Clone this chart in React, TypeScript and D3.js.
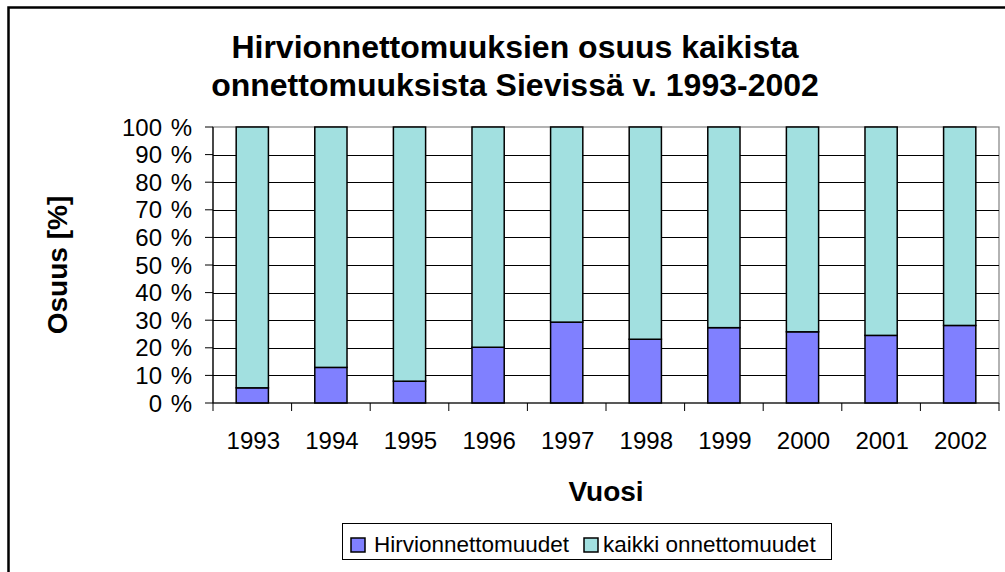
import React from "react";
import * as d3 from "d3";

const years = ["1993", "1994", "1995", "1996", "1997", "1998", "1999", "2000", "2001", "2002"];
const hirvi = [5.5, 12.9, 7.9, 20.2, 29.3, 23.1, 27.3, 25.8, 24.5, 28.1];
const muut = [94.5, 87.1, 92.1, 79.8, 70.7, 76.9, 72.7, 74.2, 75.5, 71.9];
const yTicks = [0, 10, 20, 30, 40, 50, 60, 70, 80, 90, 100];
const seriesNames = ["Hirvionnettomuudet", "kaikki onnettomuudet"];
const colors = ["#8080FF", "#A2E0E0"];
const titleLines = ["Hirvionnettomuuksien osuus kaikista", "onnettomuuksista Sievissä v. 1993-2002"];

const W = 1005;
const H = 572;
const font = "'Liberation Sans', Arial, sans-serif";

export default function App() {
  const left = 213, right = 999, top = 127, bottom = 403;
  const x = d3.scaleBand<string>().domain(years).range([left, right]).paddingInner(0.59).paddingOuter(0.295);
  const y = d3.scaleLinear().domain([0, 100]).range([bottom, top]);
  const step = x.step();
  const boundaries = d3.range(years.length + 1).map((i) => left + i * step);

  const stacked = years.map((yr, i) => {
    const total = hirvi[i] + muut[i];
    const a = (hirvi[i] / total) * 100;
    return { yr, segs: [[0, a], [a, 100]] };
  });

  return (
    <svg width={W} height={H} style={{ position: "absolute", left: 0, top: 0, display: "block" }} fontFamily={font}>
      <rect x={0} y={0} width={W} height={H} fill="#fff" />
      <rect x={8.5} y={7.5} width={W + 20} height={H + 20} fill="none" stroke="#000" strokeWidth={2.5} />
      {titleLines.map((t, i) => (
        <text key={i} x={515} y={58 + i * 38} textAnchor="middle" fontSize={32} fontWeight="bold" fill="#000">{t}</text>
      ))}
      {/* plot area border */}
      <rect x={left} y={top} width={right - left} height={bottom - top} fill="#fff" stroke="#808080" strokeWidth={1.2} />
      {yTicks.filter((v) => v > 0 && v < 100).map((v) => (
        <line key={v} x1={left} x2={right} y1={Math.round(y(v)) + 0.5} y2={Math.round(y(v)) + 0.5} stroke="#000" strokeWidth={1} />
      ))}
      {stacked.map((d) =>
        d.segs.map((s, j) => (
          <rect key={d.yr + j} x={x(d.yr)} y={y(s[1])} width={x.bandwidth()} height={y(s[0]) - y(s[1])}
            fill={colors[j]} stroke="#000" strokeWidth={1.5} />
        ))
      )}
      {/* axes */}
      <line x1={left} x2={left} y1={top} y2={bottom} stroke="#000" strokeWidth={1.2} />
      <line x1={left} x2={right} y1={bottom} y2={bottom} stroke="#000" strokeWidth={1.2} />
      {yTicks.map((v) => (
        <g key={v}>
          <line x1={left - 8} x2={left} y1={y(v)} y2={y(v)} stroke="#000" strokeWidth={1} />
          <text x={192} y={y(v)} dy="0.36em" textAnchor="end" fontSize={24} fill="#000">
            {String(v)}<tspan dx={2}>{"\u00a0%"}</tspan>
          </text>
        </g>
      ))}
      {boundaries.map((bx, i) => (
        <line key={i} x1={bx} x2={bx} y1={bottom} y2={bottom + 8} stroke="#000" strokeWidth={1} />
      ))}
      {years.map((yr) => (
        <text key={yr} x={(x(yr) as number) + x.bandwidth() / 2 + 1} y={449} textAnchor="middle" fontSize={24} fill="#000">{yr}</text>
      ))}
      <text x={(left + right) / 2} y={501} textAnchor="middle" fontSize={28} fontWeight="bold" fill="#000">Vuosi</text>
      <text transform={`translate(67,${(top + bottom) / 2}) rotate(-90)`} textAnchor="middle" fontSize={28} fontWeight="bold" fill="#000">Osuus [%]</text>
      {/* legend */}
      <rect x={342.5} y={523.5} width={489} height={36} fill="#fff" stroke="#000" strokeWidth={1} />
      <rect x={351} y={538} width={14} height={14} fill={colors[0]} stroke="#000" strokeWidth={1.5} />
      <text x={374} y={552} fontSize={22.5} fill="#000">{seriesNames[0]}</text>
      <rect x={584} y={538} width={14} height={14} fill={colors[1]} stroke="#000" strokeWidth={1.5} />
      <text x={603} y={552} fontSize={22.5} fill="#000">{seriesNames[1]}</text>
    </svg>
  );
}
